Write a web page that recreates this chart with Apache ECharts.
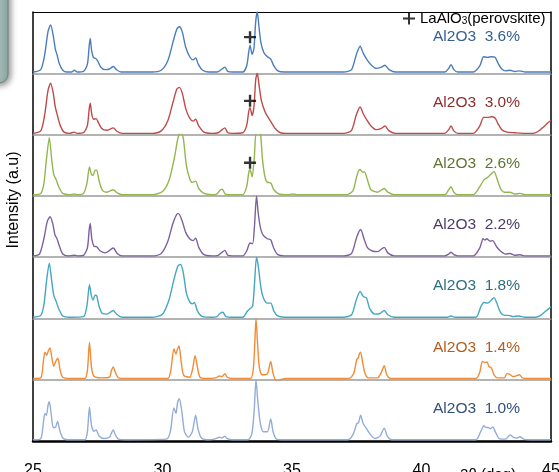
<!DOCTYPE html>
<html><head><meta charset="utf-8">
<script src="https://cdn.jsdelivr.net/npm/echarts@6/dist/echarts.min.js"></script>
<style>html,body{margin:0;padding:0;background:#fff}#c{width:559px;height:472px}</style>
</head><body><div id="c"></div>
<script>
// ---- data ----
const xTicks = [25, 30, 35, 40, 45];
const panelLabels = ['Al2O3  3.6%', 'Al2O3  3.0%', 'Al2O3  2.6%', 'Al2O3  2.2%', 'Al2O3  1.8%', 'Al2O3  1.4%', 'Al2O3  1.0%'];
const perovskiteName = 'LaAlO3 (perovskite)';
const perovskiteMarks = [[33.38, 0.59], [33.38, 0.55], [33.38, 0.54]]; // panels 3.6, 3.0, 2.6

const al36 = [[25,0.02],[25.3,0.06],[25.45,0.3],[25.58,0.68],[25.68,0.79],[25.78,0.62],[25.86,0.4],[25.93,0.3],[26.02,0.15],[26.15,0.05],[26.3,0.02],[26.5,0.02],[26.6,0.05],[26.7,0.02],[26.95,0.03],[27.1,0.15],[27.17,0.45],[27.21,0.57],[27.26,0.38],[27.33,0.26],[27.42,0.24],[27.5,0.2],[27.62,0.1],[27.8,0.06],[27.95,0.07],[28.1,0.11],[28.22,0.06],[28.4,0.02],[29.6,0.02],[29.95,0.05],[30.2,0.2],[30.4,0.5],[30.55,0.72],[30.65,0.76],[30.76,0.68],[30.9,0.42],[31.05,0.27],[31.18,0.22],[31.28,0.25],[31.38,0.15],[31.55,0.05],[31.8,0.02],[32.1,0.02],[32.3,0.07],[32.41,0.1],[32.52,0.03],[32.7,0.02],[33.1,0.02],[33.25,0.12],[33.33,0.35],[33.38,0.46],[33.46,0.31],[33.53,0.4],[33.6,0.85],[33.66,1.0],[33.72,0.78],[33.8,0.5],[33.92,0.33],[34.05,0.27],[34.18,0.23],[34.3,0.12],[34.45,0.04],[34.7,0.02],[37.0,0.02],[37.3,0.06],[37.48,0.3],[37.63,0.44],[37.75,0.33],[37.9,0.22],[38.05,0.14],[38.25,0.08],[38.45,0.1],[38.59,0.13],[38.75,0.06],[39.0,0.02],[40.9,0.02],[41.05,0.08],[41.14,0.14],[41.25,0.06],[41.4,0.02],[42.0,0.02],[42.25,0.12],[42.4,0.27],[42.55,0.26],[42.7,0.27],[42.84,0.26],[42.95,0.17],[43.1,0.07],[43.25,0.04],[43.42,0.05],[43.6,0.03],[43.8,0.04],[44.0,0.02],[45,0.02]];
const al30 = [[25,0.02],[25.3,0.06],[25.45,0.32],[25.58,0.72],[25.68,0.84],[25.78,0.68],[25.86,0.45],[25.95,0.3],[26.05,0.15],[26.2,0.04],[26.4,0.02],[26.6,0.04],[26.7,0.02],[26.95,0.03],[27.1,0.15],[27.17,0.42],[27.21,0.51],[27.27,0.33],[27.34,0.25],[27.44,0.26],[27.52,0.2],[27.65,0.1],[27.85,0.07],[28.1,0.11],[28.25,0.05],[28.45,0.02],[29.6,0.02],[29.95,0.06],[30.2,0.22],[30.4,0.52],[30.55,0.74],[30.65,0.77],[30.76,0.68],[30.9,0.42],[31.05,0.27],[31.18,0.22],[31.28,0.25],[31.4,0.14],[31.6,0.04],[31.9,0.02],[32.15,0.03],[32.3,0.08],[32.41,0.11],[32.52,0.03],[32.7,0.02],[33.1,0.03],[33.25,0.15],[33.33,0.38],[33.38,0.44],[33.46,0.31],[33.53,0.45],[33.6,0.9],[33.66,1.0],[33.73,0.8],[33.82,0.55],[33.95,0.38],[34.05,0.3],[34.2,0.2],[34.35,0.1],[34.55,0.03],[34.8,0.02],[37.0,0.02],[37.3,0.07],[37.48,0.32],[37.63,0.45],[37.75,0.34],[37.9,0.23],[38.05,0.14],[38.25,0.08],[38.45,0.1],[38.59,0.14],[38.75,0.06],[39.0,0.02],[40.9,0.02],[41.05,0.08],[41.14,0.14],[41.25,0.06],[41.4,0.02],[42.0,0.02],[42.25,0.14],[42.4,0.28],[42.55,0.28],[42.7,0.29],[42.84,0.27],[42.95,0.18],[43.1,0.08],[43.3,0.04],[43.6,0.03],[44.0,0.02],[44.3,0.02],[44.5,0.05],[44.7,0.12],[44.9,0.2],[45,0.23]];
const al26 = [[25,0.02],[25.3,0.04],[25.42,0.2],[25.52,0.6],[25.63,0.95],[25.72,0.6],[25.8,0.35],[25.9,0.26],[26.0,0.14],[26.15,0.04],[26.4,0.02],[26.6,0.03],[26.75,0.02],[26.95,0.04],[27.08,0.2],[27.18,0.47],[27.25,0.36],[27.32,0.33],[27.4,0.42],[27.46,0.42],[27.55,0.25],[27.68,0.09],[27.85,0.06],[28.1,0.1],[28.25,0.05],[28.45,0.02],[29.6,0.02],[30.0,0.07],[30.25,0.25],[30.45,0.6],[30.6,0.95],[30.7,1.05],[30.8,0.95],[30.92,0.5],[31.05,0.28],[31.15,0.22],[31.28,0.24],[31.4,0.12],[31.6,0.04],[31.9,0.02],[32.1,0.03],[32.22,0.09],[32.31,0.11],[32.42,0.03],[32.7,0.02],[33.1,0.02],[33.25,0.15],[33.33,0.38],[33.38,0.43],[33.46,0.31],[33.54,0.6],[33.62,1.05],[33.7,1.05],[33.78,1.03],[33.86,0.6],[33.96,0.3],[34.05,0.22],[34.18,0.21],[34.3,0.1],[34.5,0.03],[34.8,0.02],[35.06,0.03],[35.2,0.02],[37.1,0.02],[37.35,0.08],[37.52,0.35],[37.63,0.43],[37.72,0.39],[37.8,0.39],[37.92,0.25],[38.05,0.1],[38.3,0.06],[38.56,0.12],[38.7,0.06],[38.95,0.02],[40.9,0.02],[41.05,0.1],[41.14,0.15],[41.25,0.06],[41.4,0.02],[42.0,0.02],[42.25,0.15],[42.41,0.26],[42.55,0.3],[42.7,0.36],[42.8,0.4],[42.9,0.3],[43.05,0.12],[43.2,0.06],[43.42,0.06],[43.6,0.03],[43.8,0.04],[44.0,0.02],[45,0.02]];
const al22 = [[25,0.02],[25.25,0.05],[25.42,0.3],[25.55,0.58],[25.66,0.66],[25.76,0.55],[25.85,0.36],[25.92,0.31],[26.02,0.18],[26.15,0.05],[26.35,0.02],[26.6,0.03],[26.75,0.02],[26.95,0.03],[27.1,0.15],[27.17,0.45],[27.21,0.55],[27.27,0.3],[27.35,0.18],[27.46,0.17],[27.6,0.1],[27.8,0.07],[28.1,0.15],[28.25,0.06],[28.45,0.02],[29.6,0.02],[29.95,0.06],[30.2,0.25],[30.4,0.55],[30.55,0.7],[30.62,0.71],[30.75,0.6],[30.9,0.4],[31.05,0.3],[31.18,0.27],[31.28,0.31],[31.4,0.16],[31.6,0.04],[31.9,0.02],[32.15,0.03],[32.3,0.08],[32.41,0.11],[32.52,0.03],[32.7,0.02],[33.1,0.02],[33.25,0.1],[33.38,0.23],[33.48,0.22],[33.55,0.5],[33.63,1.0],[33.7,0.7],[33.8,0.45],[33.9,0.35],[34.05,0.3],[34.18,0.28],[34.3,0.14],[34.45,0.04],[34.7,0.02],[37.0,0.02],[37.3,0.06],[37.5,0.33],[37.65,0.45],[37.78,0.3],[37.92,0.15],[38.1,0.1],[38.3,0.09],[38.56,0.16],[38.7,0.07],[38.95,0.02],[40.9,0.02],[41.05,0.05],[41.14,0.08],[41.25,0.04],[41.4,0.02],[42.0,0.02],[42.25,0.15],[42.38,0.3],[42.45,0.28],[42.52,0.3],[42.65,0.26],[42.75,0.27],[42.9,0.17],[43.05,0.1],[43.25,0.05],[43.42,0.06],[43.6,0.03],[43.8,0.04],[44.0,0.02],[45,0.02]];
const al18 = [[25,0.02],[25.3,0.05],[25.42,0.22],[25.52,0.6],[25.63,0.9],[25.72,0.62],[25.8,0.38],[25.9,0.27],[26.0,0.15],[26.15,0.04],[26.4,0.02],[26.95,0.03],[27.08,0.2],[27.18,0.55],[27.25,0.38],[27.32,0.3],[27.4,0.38],[27.46,0.37],[27.55,0.2],[27.68,0.08],[27.85,0.07],[28.1,0.13],[28.25,0.06],[28.45,0.02],[29.6,0.02],[30.0,0.07],[30.25,0.3],[30.45,0.65],[30.6,0.86],[30.7,0.88],[30.8,0.75],[30.92,0.42],[31.05,0.27],[31.15,0.24],[31.23,0.26],[31.35,0.12],[31.55,0.03],[31.9,0.02],[32.1,0.03],[32.22,0.08],[32.33,0.1],[32.45,0.03],[32.7,0.02],[33.1,0.02],[33.28,0.12],[33.38,0.16],[33.48,0.2],[33.55,0.55],[33.63,1.0],[33.7,0.85],[33.8,0.5],[33.9,0.33],[34.05,0.25],[34.18,0.25],[34.3,0.12],[34.45,0.04],[34.7,0.02],[37.0,0.02],[37.3,0.06],[37.48,0.3],[37.63,0.44],[37.75,0.36],[37.88,0.33],[38.0,0.16],[38.2,0.07],[38.4,0.08],[38.56,0.13],[38.7,0.06],[38.95,0.02],[41.0,0.02],[41.14,0.04],[41.3,0.02],[42.1,0.02],[42.3,0.2],[42.41,0.26],[42.55,0.25],[42.7,0.3],[42.8,0.34],[42.9,0.26],[43.05,0.1],[43.2,0.05],[43.36,0.05],[43.55,0.03],[43.75,0.04],[44.0,0.02],[44.4,0.02],[44.6,0.05],[44.8,0.12],[45,0.19]];
const al14 = [[25,0.02],[25.3,0.03],[25.4,0.3],[25.46,0.45],[25.53,0.4],[25.6,0.48],[25.66,0.52],[25.73,0.35],[25.8,0.22],[25.88,0.3],[25.96,0.35],[26.05,0.15],[26.15,0.04],[26.4,0.02],[27.0,0.02],[27.1,0.15],[27.18,0.61],[27.26,0.2],[27.35,0.06],[27.6,0.03],[27.95,0.04],[28.03,0.15],[28.1,0.21],[28.18,0.12],[28.3,0.03],[28.6,0.02],[30.2,0.02],[30.32,0.15],[30.44,0.5],[30.52,0.42],[30.58,0.5],[30.64,0.55],[30.72,0.3],[30.82,0.07],[31.05,0.04],[31.15,0.15],[31.26,0.39],[31.35,0.2],[31.45,0.04],[31.7,0.02],[32.05,0.03],[32.2,0.06],[32.3,0.05],[32.41,0.1],[32.5,0.04],[32.7,0.02],[33.4,0.02],[33.5,0.15],[33.56,0.55],[33.61,1.0],[33.67,0.6],[33.74,0.2],[33.85,0.08],[34.05,0.1],[34.18,0.3],[34.27,0.1],[34.4,-0.02],[34.55,0.0],[34.8,0.02],[37.2,0.02],[37.38,0.1],[37.5,0.33],[37.56,0.36],[37.6,0.42],[37.65,0.45],[37.72,0.3],[37.82,0.1],[37.95,0.03],[38.3,0.03],[38.45,0.12],[38.56,0.23],[38.66,0.08],[38.8,0.02],[42.1,0.02],[42.25,0.12],[42.35,0.3],[42.45,0.28],[42.53,0.29],[42.6,0.22],[42.7,0.19],[42.8,0.08],[42.95,0.03],[43.2,0.03],[43.3,0.1],[43.4,0.09],[43.55,0.05],[43.7,0.07],[43.78,0.08],[43.9,0.03],[44.1,0.02],[45,0.02]];
const al10 = [[25,0.02],[25.3,0.04],[25.4,0.3],[25.46,0.45],[25.52,0.42],[25.58,0.58],[25.63,0.64],[25.7,0.45],[25.78,0.22],[25.86,0.22],[25.95,0.32],[26.03,0.18],[26.15,0.05],[26.4,0.02],[27.0,0.02],[27.1,0.15],[27.18,0.55],[27.26,0.25],[27.35,0.16],[27.44,0.18],[27.55,0.08],[27.75,0.04],[27.95,0.06],[28.05,0.15],[28.1,0.18],[28.18,0.1],[28.3,0.03],[28.6,0.02],[30.15,0.03],[30.3,0.15],[30.44,0.54],[30.52,0.45],[30.58,0.62],[30.65,0.69],[30.74,0.5],[30.85,0.15],[31.0,0.06],[31.15,0.15],[31.28,0.42],[31.37,0.2],[31.5,0.05],[31.8,0.02],[32.0,0.03],[32.2,0.06],[32.3,0.05],[32.41,0.08],[32.5,0.04],[32.7,0.02],[33.3,0.02],[33.45,0.12],[33.54,0.5],[33.61,1.0],[33.68,0.65],[33.78,0.28],[33.9,0.15],[34.05,0.15],[34.18,0.36],[34.27,0.15],[34.4,0.03],[34.7,0.02],[37.15,0.02],[37.35,0.1],[37.5,0.28],[37.57,0.3],[37.65,0.42],[37.75,0.28],[37.88,0.2],[38.0,0.12],[38.2,0.04],[38.4,0.08],[38.56,0.21],[38.68,0.08],[38.85,0.02],[42.1,0.02],[42.28,0.15],[42.41,0.25],[42.48,0.22],[42.58,0.22],[42.65,0.2],[42.75,0.23],[42.85,0.15],[43.0,0.04],[43.25,0.03],[43.42,0.1],[43.55,0.06],[43.7,0.05],[43.8,0.07],[43.95,0.03],[44.2,0.02],[45,0.02]];

const patterns = [al36, al30, al26, al22, al18, al14, al10];
const lineColors = ['#4a7ebb', '#be4b48', '#93b74f', '#7d60a0', '#44a7c2', '#f28b36', '#93acd9'];
const labelColors = ['#345f93', '#8e2c2c', '#5f7431', '#4b3b6b', '#2f6f80', '#b45d1f', '#34507b'];

// ---- layout ----
const N = patterns.length;
const TOP = 12, BOTTOM_Y = 441, LEFT = 33, RIGHT = 8;
const PH = (BOTTOM_Y - TOP) / N;
const FONT = '"Liberation Sans", Arial, sans-serif';

const grids = [], xAxes = [], yAxes = [], series = [];
for (let i = 0; i < N; i++) {
  grids.push({ left: LEFT, right: RIGHT, top: TOP + i * PH, height: PH, containLabel: false, outerBoundsMode: 'none' });
  const last = i === N - 1;
  xAxes.push({
    gridIndex: i, type: 'value', min: xTicks[0], max: xTicks[xTicks.length - 1], interval: 5,
    axisLine: { show: true, onZero: false, lineStyle: { color: last ? '#000' : '#9a9a9a', width: last ? 2.5 : 1.5 } },
    axisTick: { show: false }, splitLine: { show: false },
    axisLabel: { show: last, color: '#000', fontSize: 16, fontFamily: FONT, margin: 22 }
  });
}
// top frame line
xAxes.push({ gridIndex: 0, type: 'value', position: 'top', min: 25, max: 45,
  axisLine: { show: true, onZero: false, lineStyle: { color: '#000', width: 1 } },
  axisTick: { show: false }, axisLabel: { show: false }, splitLine: { show: false } });
for (let i = 0; i < N; i++) {
  yAxes.push({ gridIndex: i, type: 'value', min: 0, max: 1,
    axisLine: { show: true, onZero: false, lineStyle: { color: '#000', width: 1.5 } },
    axisTick: { show: false }, axisLabel: { show: false }, splitLine: { show: false } });
}
for (let i = 0; i < N; i++) {
  yAxes.push({ gridIndex: i, type: 'value', position: 'right', min: 0, max: 1,
    axisLine: { show: true, onZero: false, lineStyle: { color: '#000', width: 1.5 } },
    axisTick: { show: false }, axisLabel: { show: false }, splitLine: { show: false } });
}

patterns.forEach((d, i) => {
  series.push({
    type: 'line', name: panelLabels[i], xAxisIndex: i, yAxisIndex: i, data: d,
    showSymbol: false, symbol: 'none', clip: true, z: 3, smooth: 0.25,
    lineStyle: { color: lineColors[i], width: 1.4 }, itemStyle: { color: lineColors[i] }
  });
});

const plusPath = 'path://M4,0h2v10h-2zM0,4h10v2h-10z';
perovskiteMarks.forEach((p, i) => {
  series.push({
    type: 'scatter', name: perovskiteName, xAxisIndex: i, yAxisIndex: i, data: [p],
    symbol: plusPath, symbolSize: 12, itemStyle: { color: '#000' }, z: 5
  });
});

const graphics = [
  { type: 'rect', shape: { x: -20, y: -20, width: 28, height: 103, r: 9 },
    style: { fill: new echarts.graphic.LinearGradient(0, 0, 1, 0, [{ offset: 0, color: '#c6d7d4' }, { offset: 1, color: '#91aaa6' }]),
      stroke: '#6d8581', lineWidth: 1, shadowBlur: 6, shadowColor: 'rgba(0,0,0,0.45)', shadowOffsetX: 2, shadowOffsetY: 2 } },
  { type: 'text', x: 14, y: 200, rotation: Math.PI / 2,
    style: { text: 'Intensity (a.u)', font: '16px ' + FONT, fill: '#000', align: 'center', verticalAlign: 'middle' } },
  { type: 'text', x: 488, y: 467,
    style: { text: '2θ (deg)', font: '15px ' + FONT, fill: '#000', align: 'center', verticalAlign: 'top' } }
];
panelLabels.forEach((t, i) => {
  graphics.push({ type: 'text', x: 520, y: TOP + i * PH + (i === 0 ? 25 : 29), z: 10,
    style: { text: t, font: '15.5px ' + FONT, fill: labelColors[i], align: 'right', verticalAlign: 'middle' } });
});

const chart = echarts.init(document.getElementById('c'), null, { renderer: 'canvas' });
chart.setOption({
  animation: false,
  backgroundColor: '#fff',
  grid: grids, xAxis: xAxes, yAxis: yAxes, series: series,
  legend: {
    data: [{ name: perovskiteName, icon: 'path://M5,0h2v12h-2zM0,5h12v2h-12z' }],
    left: 403, top: 11, itemWidth: 12, itemHeight: 12, padding: 0,
    formatter: () => '{a|LaAlO}{s|3}{a|(perovskite)}',
    textStyle: { color: '#000', fontFamily: FONT, fontSize: 15,
      rich: { a: { fontSize: 15, fontFamily: FONT, color: '#000' }, s: { fontSize: 10, fontFamily: FONT, color: '#000', padding: [6, 0, 0, 0] } } }
  },
  graphic: graphics
});
</script></body></html>
